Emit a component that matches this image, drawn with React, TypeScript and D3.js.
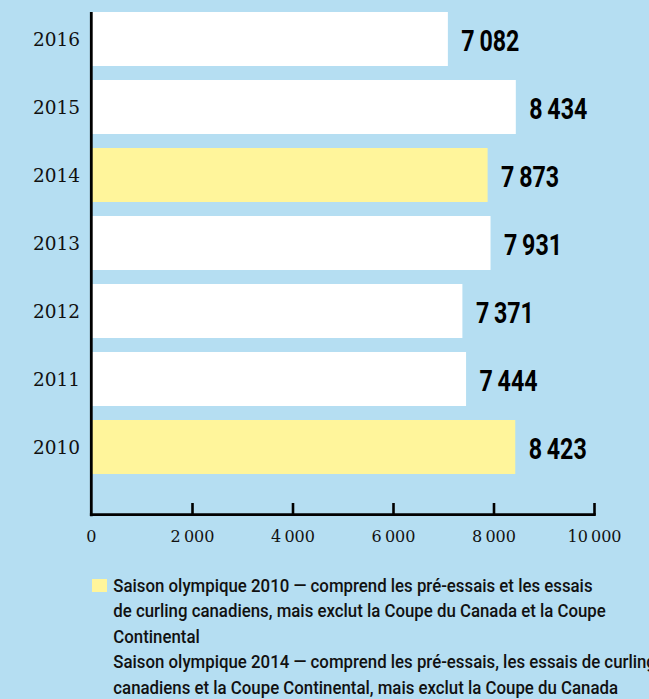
import React from "react";
import * as d3 from "d3";

const years = ["2016", "2015", "2014", "2013", "2012", "2011", "2010"];
const values = [7082, 8434, 7873, 7931, 7371, 7444, 8423];
const olympicYears = ["2014", "2010"];
const xTicks = [0, 2000, 4000, 6000, 8000, 10000];
const legendLines = [
  "Saison olympique 2010 — comprend les pré-essais et les essais",
  "de curling canadiens, mais exclut la Coupe du Canada et la Coupe",
  "Continental",
  "Saison olympique 2014 — comprend les pré-essais, les essais de curling",
  "canadiens et la Coupe Continental, mais exclut la Coupe du Canada",
];

const W = 649;
const H = 699;
const BG = "#b5def2";
const YELLOW = "#fff59b";

const fmt = (v: number) => d3.format(",")(v).replace(/,/g, "\u2009");
const fmtVal = (v: number) => d3.format(",")(v).replace(/,/g, "\u2009");

export default function App() {
  const x = d3.scaleLinear().domain([0, 10000]).range([92, 594.5]);
  const y = d3
    .scaleBand<string>()
    .domain(years)
    .range([5, 481])
    .paddingInner(0.206)
    .paddingOuter(0.103);
  const axisY = 514.7;
  const axisX = 91.3;
  const legendBaselines = [591.7, 617, 642.5, 668, 693.5];

  return (
    <svg
      width={W}
      height={H}
      style={{ position: "absolute", left: 0, top: 0, display: "block" }}
    >
      <rect x={0} y={0} width={W} height={H} fill={BG} />
      {years.map((yr, i) => (
        <rect
          key={yr}
          x={x(0)}
          y={y(yr)}
          width={x(values[i]) - x(0)}
          height={y.bandwidth()}
          fill={olympicYears.includes(yr) ? YELLOW : "#ffffff"}
        />
      ))}
      {years.map((yr) => (
        <text
          key={"yl" + yr}
          x={80}
          y={(y(yr) as number) + y.bandwidth() / 2}
          dy="0.37em"
          textAnchor="end"
          fontFamily="'DejaVu Serif', serif"
          fontSize={18.5}
          fill="#111"
        >
          {yr}
        </text>
      ))}
      {years.map((yr, i) => (
        <text
          key={"vl" + yr}
          transform={`translate(${x(values[i]) + 13.5},${
            (y(yr) as number) + y.bandwidth() / 2 + 11.7
          }) scale(0.8,1)`}
          fontFamily="Roboto, sans-serif"
          fontWeight={700}
          fontSize={29}
          fill="#000"
        >
          {fmtVal(values[i])}
        </text>
      ))}
      {/* axes */}
      <line x1={axisX} x2={axisX} y1={12} y2={axisY + 1.5} stroke="#000" strokeWidth={2.8} />
      <line x1={axisX - 1.4} x2={x(10000) + 1.3} y1={axisY} y2={axisY} stroke="#000" strokeWidth={2.8} />
      {xTicks.filter((t) => t > 0).map((t) => (
        <line
          key={"t" + t}
          x1={x(t)}
          x2={x(t)}
          y1={503}
          y2={axisY}
          stroke="#000"
          strokeWidth={2.6}
        />
      ))}
      {xTicks.map((t) => (
        <text
          key={"tl" + t}
          x={t === 0 ? axisX : x(t)}
          y={542}
          textAnchor="middle"
          fontFamily="'DejaVu Serif', serif"
          fontSize={16}
          fill="#111"
        >
          {fmt(t)}
        </text>
      ))}
      {/* legend */}
      <rect x={92} y={579} width={15} height={13} fill={YELLOW} />
      {legendLines.map((line, i) => (
        <text
          key={"lg" + i}
          transform={`translate(113.3,${legendBaselines[i]}) scale(0.935,1)`}
          fontFamily="Roboto, sans-serif"
          fontWeight={500}
          fontSize={18}
          fill="#111"
        >
          {line}
        </text>
      ))}
    </svg>
  );
}
